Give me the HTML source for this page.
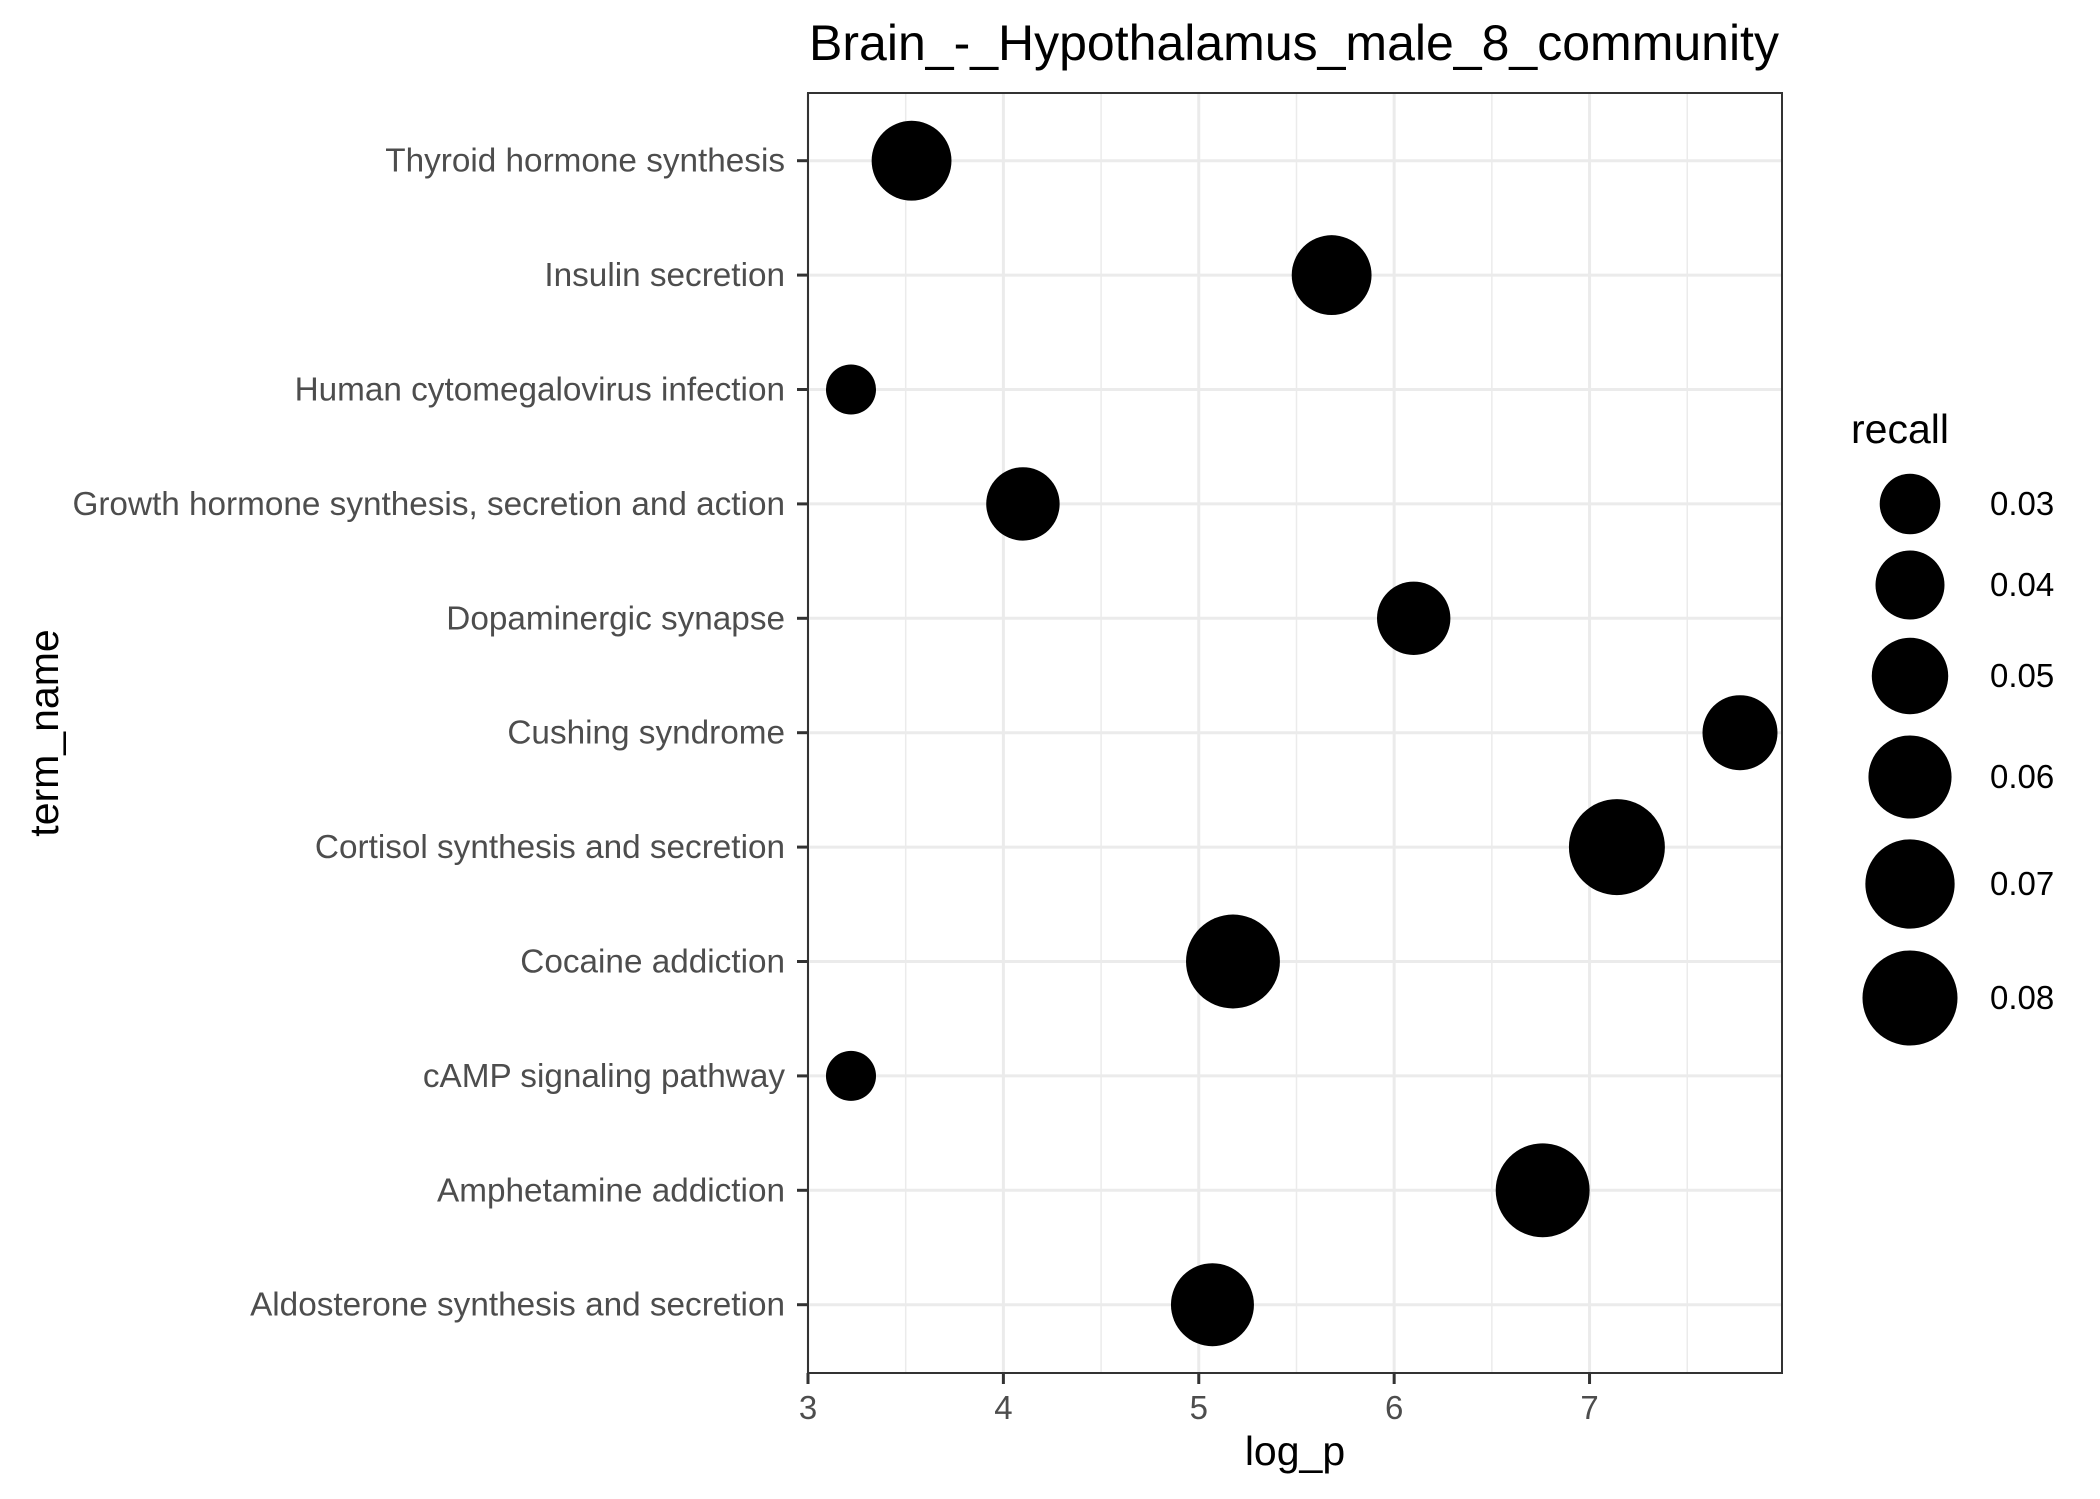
<!DOCTYPE html>
<html><head><meta charset="utf-8"><style>
html,body{margin:0;padding:0;background:#fff;}
svg{display:block;font-family:"Liberation Sans",sans-serif;}
</style></head><body>
<svg id="chart" width="2100" height="1499" xmlns="http://www.w3.org/2000/svg">
<rect width="2100" height="1499" fill="#fff"/>
<text x="1294" y="60" font-size="50" text-anchor="middle" fill="#000">Brain_-_Hypothalamus_male_8_community</text>
<g id="grid"></g><g id="pts"></g><g id="axes"></g><g id="legend"></g>
<text x="1295" y="1465" font-size="41" text-anchor="middle" fill="#000">log_p</text>
<text transform="translate(58,733) rotate(-90)" font-size="41" text-anchor="middle" fill="#000">term_name</text>
</svg>
<script>
const terms = ["Thyroid hormone synthesis","Insulin secretion","Human cytomegalovirus infection","Growth hormone synthesis, secretion and action","Dopaminergic synapse","Cushing syndrome","Cortisol synthesis and secretion","Cocaine addiction","cAMP signaling pathway","Amphetamine addiction","Aldosterone synthesis and secretion"];
const logP = [3.53,5.68,3.22,4.10,6.10,7.77,7.14,5.175,3.22,6.76,5.07];
const recall = [0.055,0.055,0.0195,0.0458,0.0458,0.048,0.0817,0.078,0.0195,0.078,0.0598];
const xTicks = [3,4,5,6,7];
const xMinor = [3.5,4.5,5.5,6.5,7.5];
const legendVals = [0.03,0.04,0.05,0.06,0.07,0.08];
const legendLabels = ["0.03","0.04","0.05","0.06","0.07","0.08"];

const NS="http://www.w3.org/2000/svg";
const L=808,R=1782,T=93,B=1373;
const xDom=[3,7.985];
function xS(v){return L+(v-xDom[0])/(xDom[1]-xDom[0])*(R-L);}
const rowStep=114.4;
function yS(i){return T+67.7+i*rowStep;}
function rS(v){return 3.1+157*Math.sqrt(v);}
function mk(tag,attrs,parent){const e=document.createElementNS(NS,tag);for(const k in attrs)e.setAttribute(k,attrs[k]);parent.appendChild(e);return e;}
const grid=document.getElementById('grid'),pts=document.getElementById('pts'),axes=document.getElementById('axes'),leg=document.getElementById('legend');
mk('rect',{x:L,y:T,width:R-L,height:B-T,fill:'#fff'},grid);
xMinor.forEach(v=>{const e=mk('line',{x1:xS(v),x2:xS(v),y1:T,y2:B,stroke:'#ebebeb','stroke-width':1.5},grid);

});
xTicks.forEach(v=>{const e=mk('line',{x1:xS(v),x2:xS(v),y1:T,y2:B,stroke:'#ebebeb','stroke-width':3},grid);

});
terms.forEach((t,i)=>{const e=mk('line',{x1:L,x2:R,y1:yS(i),y2:yS(i),stroke:'#ebebeb','stroke-width':3},grid);

});
terms.forEach((t,i)=>{const c=mk('circle',{cx:xS(logP[i]),cy:yS(i),r:rS(recall[i]),fill:'#000'},pts);


const tk=mk('line',{x1:L-11,x2:L,y1:yS(i),y2:yS(i),stroke:'#333','stroke-width':3},axes);


const lb=mk('text',{x:L-23,y:yS(i)+11,'font-size':33.3,'text-anchor':'end',fill:'#4d4d4d'},axes);
lb.textContent=t;

});
const br=mk('rect',{x:L,y:T,width:R-L,height:B-T,fill:'none',stroke:'#333','stroke-width':2},axes);


xTicks.forEach(v=>{const tk=mk('line',{x1:xS(v),x2:xS(v),y1:B,y2:B+11,stroke:'#333','stroke-width':3},axes);


const lb=mk('text',{x:xS(v),y:B+46,'font-size':33,'text-anchor':'middle',fill:'#4d4d4d'},axes);
lb.textContent=String(v);

});
const lt=mk('text',{x:1851,y:443,'font-size':41,fill:'#000'},leg);
lt.textContent='recall';


const legY=[504,585,676,777,884,998];
legendVals.forEach((v,i)=>{const c=mk('circle',{cx:1910,cy:legY[i],r:rS(v),fill:'#000'},leg);


const t=mk('text',{x:1990,y:legY[i]+11,'font-size':33,fill:'#000'},leg);
t.textContent=legendLabels[i];

});
</script>
</body></html>
